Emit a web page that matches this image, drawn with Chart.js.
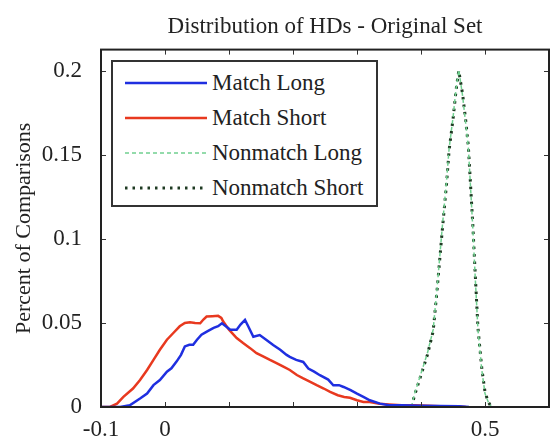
<!DOCTYPE html>
<html>
<head>
<meta charset="utf-8">
<script src="https://cdn.jsdelivr.net/npm/chart.js@4.4.0/dist/chart.umd.min.js"></script>
<style>
    body { margin: 0; background: #fff; }
    #wrap { position: relative; width: 553px; height: 441px; }
    #legend {
        position: absolute; left: 111px; top: 60px; width: 267px; height: 147px;
        box-sizing: border-box; border: 2px solid #333; background: #fff; padding-top: 3px;
        font-family: "Liberation Serif", "DejaVu Serif", serif; font-size: 23px; color: #222;
    }
    .row { height: 35px; display: flex; align-items: center; }
    .row svg { margin-left: 12px; flex: none; }
    .row span { margin-left: 5px; white-space: nowrap; }
</style>
</head>
<body>
<div id="wrap">
    <canvas id="hdChart" width="553" height="441"></canvas>
    <div id="legend"></div>
</div>
<script>
// tick positions + labels
const xTicks = [-0.1, 0, 0.1, 0.2, 0.3, 0.4, 0.5, 0.6];
const xTickLabels = ['-0.1', '0', '', '', '', '', '0.5', ''];
const yTicks = [0, 0.05, 0.1, 0.15, 0.2];
const yTickLabels = ['0', '0.05', '0.1', '0.15', '0.2'];

const seriesNames = ['Match Long', 'Match Short', 'Nonmatch Long', 'Nonmatch Short'];

// Match Long (blue)
const matchLongX = [-0.1, -0.07, -0.055, -0.039, -0.028, -0.018, -0.008, 0.003, 0.01, 0.018,
                    0.025, 0.031, 0.038, 0.044, 0.05, 0.057, 0.066, 0.076, 0.083, 0.089,
                    0.095, 0.102, 0.107, 0.112, 0.118, 0.125, 0.13, 0.138, 0.148, 0.158,
                    0.169, 0.18, 0.19, 0.195, 0.205, 0.216, 0.224, 0.233, 0.242, 0.255,
                    0.263, 0.272, 0.279, 0.29, 0.3, 0.31, 0.32, 0.336, 0.35, 0.37,
                    0.4, 0.43, 0.46, 0.475];
const matchLongY = [0, 0, 0.001, 0.005, 0.008, 0.013, 0.016, 0.021, 0.023, 0.027,
                    0.031, 0.036, 0.037, 0.037, 0.040, 0.043, 0.045, 0.047, 0.048, 0.0498,
                    0.048, 0.046, 0.046, 0.046, 0.049, 0.0518, 0.048, 0.0418, 0.0428, 0.040,
                    0.0368, 0.034, 0.031, 0.0298, 0.028, 0.0268, 0.0229, 0.021, 0.0189, 0.0163,
                    0.0129, 0.013, 0.0119, 0.010, 0.0079, 0.006, 0.004, 0.002, 0.001, 0.001,
                    0.0008, 0.0006, 0.0005, 0];

// Match Short (red)
const matchShortX = [-0.1, -0.086, -0.075, -0.065, -0.05, -0.039, -0.028, -0.018, -0.008, 0.003,
                     0.013, 0.023, 0.031, 0.039, 0.047, 0.055, 0.06, 0.065, 0.074, 0.083,
                     0.088, 0.091, 0.1, 0.112, 0.122, 0.133, 0.143, 0.154, 0.164, 0.175,
                     0.185, 0.195, 0.206, 0.216, 0.227, 0.237, 0.248, 0.258, 0.27, 0.28,
                     0.289, 0.3, 0.31, 0.32, 0.335, 0.35, 0.37, 0.39, 0.41, 0.43,
                     0.45, 0.47];
const matchShortY = [0, 0, 0.002, 0.006, 0.011, 0.016, 0.022, 0.028, 0.034, 0.040,
                     0.044, 0.048, 0.050, 0.0504, 0.050, 0.0498, 0.052, 0.0538, 0.054, 0.0542,
                     0.053, 0.0508, 0.046, 0.041, 0.038, 0.035, 0.032, 0.030, 0.028, 0.026,
                     0.024, 0.022, 0.019, 0.017, 0.015, 0.013, 0.011, 0.009, 0.007, 0.006,
                     0.0055, 0.004, 0.003, 0.003, 0.002, 0.0015, 0.001, 0.001, 0.0008, 0.0005,
                     0.0003, 0];

// Nonmatch Long / Short (green dashed, dark dotted)
const nonmatchX = [0.385, 0.39, 0.4, 0.41, 0.419, 0.425, 0.433, 0.44, 0.444, 0.45,
                   0.455, 0.459, 0.465, 0.47, 0.474, 0.481, 0.485, 0.489, 0.495, 0.5,
                   0.505, 0.51];
const nonmatchLongY = [0, 0.008, 0.02, 0.032, 0.046, 0.07, 0.106, 0.135, 0.154, 0.172,
                       0.19, 0.2005, 0.185, 0.168, 0.154, 0.106, 0.075, 0.046, 0.022, 0.008,
                       0.003, 0];
const nonmatchShortY = [0, 0.007, 0.019, 0.031, 0.045, 0.069, 0.104, 0.133, 0.153, 0.171,
                        0.189, 0.2, 0.186, 0.17, 0.155, 0.108, 0.077, 0.047, 0.023, 0.009,
                        0.003, 0];

const FONT = '"Liberation Serif", "DejaVu Serif", serif';

function toPoints(xs, ys) {
    return xs.map((x, i) => ({ x: x, y: ys[i] }));
}

// inward ticks + box like matlab
const boxTicks = {
    id: 'boxTicks',
    afterDatasetsDraw(chart) {
        const { ctx, chartArea: a, scales } = chart;
        ctx.save();
        ctx.strokeStyle = '#333';
        ctx.lineWidth = 1;
        xTicks.forEach(v => {
            const px = Math.round(scales.x.getPixelForValue(v)) + 0.5;
            ctx.beginPath();
            ctx.moveTo(px, a.bottom); ctx.lineTo(px, a.bottom - 5);
            ctx.moveTo(px, a.top); ctx.lineTo(px, a.top + 5);
            ctx.stroke();
        });
        yTicks.forEach(v => {
            const py = Math.round(scales.y.getPixelForValue(v)) + 0.5;
            ctx.beginPath();
            ctx.moveTo(a.left, py); ctx.lineTo(a.left + 5, py);
            ctx.moveTo(a.right, py); ctx.lineTo(a.right - 5, py);
            ctx.stroke();
        });
        ctx.lineWidth = 2;
        ctx.strokeStyle = '#222';
        ctx.strokeRect(a.left, a.top, a.right - a.left, a.bottom - a.top);
        ctx.restore();
    }
};

const styles = [
    { color: '#1f2fe0', width: 2.5, dash: [] },
    { color: '#e8391f', width: 2.5, dash: [] },
    { color: '#70d090', width: 1.5, dash: [4, 3] },
    { color: '#1e3a22', width: 3, dash: [2.5, 5] }
];

const seriesData = [
    toPoints(matchLongX, matchLongY),
    toPoints(matchShortX, matchShortY),
    toPoints(nonmatchX, nonmatchLongY),
    toPoints(nonmatchX, nonmatchShortY)
];

new Chart(document.getElementById('hdChart'), {
    type: 'line',
    data: {
        datasets: seriesNames.map((name, i) => ({
            label: name,
            data: seriesData[i],
            borderColor: styles[i].color,
            borderWidth: styles[i].width,
            borderDash: styles[i].dash,
            pointRadius: 0,
            tension: 0,
            fill: false
        }))
    },
    options: {
        responsive: false,
        animation: false,
        layout: { padding: { left: 0, right: 4, top: 0, bottom: 0 } },
        plugins: {
            legend: { display: false },
            tooltip: { enabled: false },
            title: {
                display: true,
                fullSize: false,
                text: 'Distribution of HDs - Original Set',
                color: '#222',
                font: { family: FONT, size: 23, weight: 'normal' },
                padding: { top: 13, bottom: 9 }
            }
        },
        scales: {
            x: {
                type: 'linear',
                min: -0.1,
                max: 0.6,
                grid: { display: false },
                border: { display: false },
                afterBuildTicks: s => { s.ticks = xTicks.map(v => ({ value: v })); },
                afterFit: s => { s.height = 34; },
                ticks: {
                    autoSkip: false,
                    maxRotation: 0,
                    padding: 1,
                    color: '#222',
                    font: { family: FONT, size: 23 },
                    callback: (v, i) => xTickLabels[i]
                }
            },
            y: {
                min: 0,
                max: 0.2125,
                grid: { display: false },
                border: { display: false },
                afterBuildTicks: s => { s.ticks = yTicks.map(v => ({ value: v })); },
                afterFit: s => { s.width = 101; },
                ticks: {
                    padding: 11,
                    color: '#222',
                    font: { family: FONT, size: 23 },
                    callback: (v, i) => yTickLabels[i]
                },
                title: {
                    display: true,
                    text: 'Percent of Comparisons',
                    color: '#222',
                    font: { family: FONT, size: 22 },
                    padding: { top: 11, bottom: 0 }
                }
            }
        }
    },
    plugins: [boxTicks]
});

// legend (html, sits inside the plot like the matlab one)
const legendBox = document.getElementById('legend');
seriesNames.forEach((name, i) => {
    const st = styles[i];
    const row = document.createElement('div');
    row.className = 'row';
    row.innerHTML = `
        <svg width="82" height="8"><line x1="0" y1="4" x2="82" y2="4"
            stroke="${st.color}" stroke-width="${st.width}"
            stroke-dasharray="${st.dash.join(',') || 'none'}"/></svg>
        <span>${name}</span>`;
    legendBox.appendChild(row);
});
</script>
</body>
</html>
